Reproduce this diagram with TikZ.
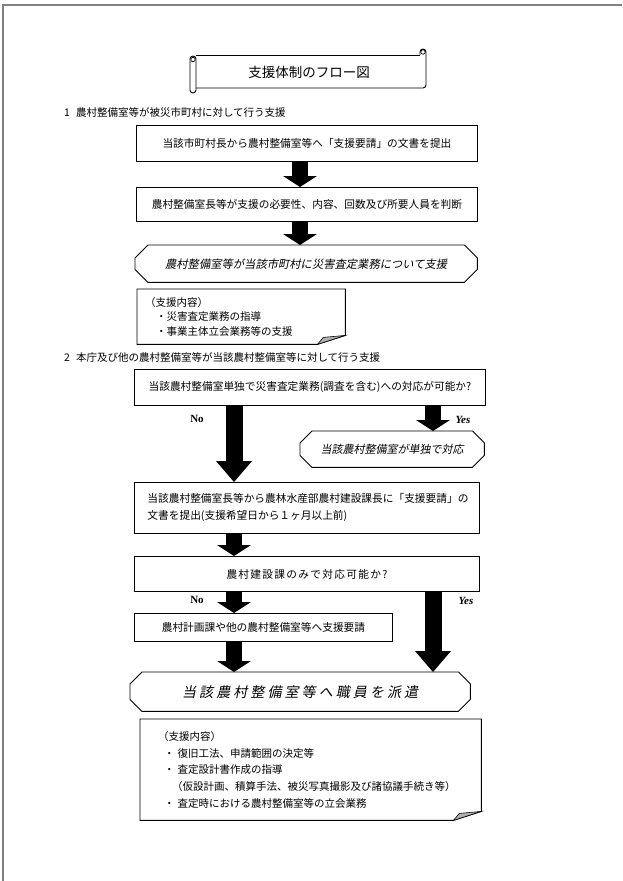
\documentclass[tikz,border=0pt]{standalone}
\usepackage{fontspec}
\usepackage{tikz}
\setmainfont{Noto Sans CJK JP}
\newfontfamily\slantjp[FakeSlant=0.2]{Noto Sans CJK JP}
\newfontfamily\spacedjp[LetterSpace=12]{Noto Sans CJK JP}
\newfontfamily\bigjp[FakeSlant=0.2,LetterSpace=22]{Noto Sans CJK JP}
\newfontfamily\yesno{Liberation Serif}
\usetikzlibrary{arrows.meta}
\definecolor{foldgray}{RGB}{175,175,175}
\definecolor{framegray}{RGB}{128,128,128}
\tikzset{
  box/.style={draw, line width=0.9pt, inner sep=0pt, anchor=north west,
    font=\fontsize{10.7}{17}\selectfont},
  hexa/.style={inner sep=0pt, anchor=north west},
  note/.style={inner sep=0pt, anchor=north west, align=left},
  heading/.style={anchor=west, inner sep=0pt, font=\fontsize{10.5}{13}\selectfont},
  answer/.style={inner sep=0pt, font=\yesno\fontsize{11}{13}\selectfont\bfseries},
  blockarrow/.style={line width=16pt, -{Triangle[length=11pt,width=34pt,line width=0pt]}},
  bigarrow/.style={line width=17pt, -{Triangle[length=21pt,width=36pt,line width=0pt]}}
}
\newcommand\chamfer[2]{%
  \draw[line width=0.9pt] ([xshift=#2]#1.north west) -- ([xshift=-#2]#1.north east)
    -- ([yshift=-#2]#1.north east) -- ([yshift=#2]#1.south east)
    -- ([xshift=-#2]#1.south east) -- ([xshift=#2]#1.south west)
    -- ([yshift=#2]#1.south west) -- ([yshift=-#2]#1.north west) -- cycle;}
\newcommand\foldnote[1]{%
  \draw[line width=0.9pt] (#1.north west) -- (#1.north east)
    -- ([yshift=9pt]#1.south east) -- ([xshift=-28pt]#1.south east)
    -- (#1.south west) -- cycle;
  \draw[line width=0.6pt, fill=foldgray] ([xshift=-28pt]#1.south east)
    -- ([yshift=9pt]#1.south east) -- ([xshift=-22pt,yshift=7pt]#1.south east) -- cycle;}
\begin{document}
\begin{tikzpicture}[x=1pt, y=-1pt]
\useasboundingbox (0,0) rectangle (622,881);
\draw[framegray, line width=1.5pt] (3,881) -- (3,5) -- (622,5);

\draw[line width=0.9pt] (196,55) -- (420,55);
\draw[line width=0.9pt, rounded corners=3pt] (420,55) -- (420,49) -- (426,49) -- (426,88) -- (196,88);
\draw[line width=0.9pt, rounded corners=3pt] (190,56) rectangle (196,93);
\draw[line width=0.7pt] (423,52) circle (2.2pt) (193,59.5) circle (2.2pt);
\node (title) at (309,72) {\fontsize{13.5}{16}\selectfont 支援体制のフロー図};

\node (head1) [heading] at (64,112) {1\hspace{6pt}農村整備室等が被災市町村に対して行う支援};
\node (request) [box, minimum width=341pt, minimum height=36pt] at (136,125)
  {当該市町村長から農村整備室等へ「支援要請」の文書を提出};
\node (judge) [box, minimum width=341pt, minimum height=34pt] at (136,187)
  {農村整備室長等が支援の必要性、内容、回数及び所要人員を判断};
\node (assist) [hexa, minimum width=342pt, minimum height=37pt] at (135,245)
  {\slantjp\fontsize{11.3}{14}\selectfont 農村整備室等が当該市町村に災害査定業務について支援};
\chamfer{assist}{13pt}
\node (note1) [note, minimum width=208pt, minimum height=55pt, inner xsep=8pt,
  text width=192pt, font=\fontsize{10.5}{14.5}\selectfont] at (137,289)
  {（支援内容）\\ \hspace*{11pt}・災害査定業務の指導\\ \hspace*{11pt}・事業主体立会業務等の支援};
\foldnote{note1}

\node (head2) [heading] at (64,357) {2\hspace{6pt}本庁及び他の農村整備室等が当該農村整備室等に対して行う支援};
\node (ask) [box, minimum width=351pt, minimum height=36pt] at (134,369)
  {当該農村整備室単独で災害査定業務(調査を含む)への対応が可能か?};
\node (self) [hexa, minimum width=184pt, minimum height=36pt] at (300,431)
  {\slantjp\fontsize{11}{14}\selectfont 当該農村整備室が単独で対応};
\chamfer{self}{12pt}
\node (report) [box, minimum width=345pt, minimum height=51pt, align=left,
  text width=319pt, inner xsep=13pt] at (134,482)
  {当該農村整備室長等から農林水産部農村建設課長に「支援要請」の\\文書を提出(支援希望日から１ヶ月以上前)};
\node (only) [box, minimum width=345pt, minimum height=35pt] at (134,556)
  {\spacedjp 農村建設課のみで対応可能か?};
\node (plan) [box, minimum width=258pt, minimum height=28pt] at (134,613)
  {農村計画課や他の農村整備室等へ支援要請};
\node (dispatch) [hexa, minimum width=340pt, minimum height=39pt] at (130,672)
  {\bigjp\fontsize{14}{17}\selectfont 当該農村整備室等へ職員を派遣};
\chamfer{dispatch}{12pt}
\node (note2) [note, minimum width=341pt, minimum height=101pt, inner xsep=18pt,
  text width=305pt, font=\fontsize{10.5}{16.7}\selectfont] at (140,719)
  {（支援内容）\\
   \hspace*{6pt}・\hspace*{3pt}復旧工法、申請範囲の決定等\\
   \hspace*{6pt}・\hspace*{3pt}査定設計書作成の指導\\
   \hspace*{14pt}（仮設計画、積算手法、被災写真撮影及び諸協議手続き等）\\
   \hspace*{6pt}・\hspace*{3pt}査定時における農村整備室等の立会業務};
\foldnote{note2}

\node (no1)  [answer] at (197,419) {No};
\node (yes1) [answer] at (463,420) {\itshape Yes};
\node (no2)  [answer] at (197,600) {No};
\node (yes2) [answer] at (466,601) {\itshape Yes};

\coordinate (colA) at (300,0);
\coordinate (colB) at (234,0);
\coordinate (colC) at (433,0);
\draw[blockarrow] (request.south -| colA) -- (judge.north -| colA);
\draw[blockarrow] (judge.south -| colA) -- (assist.north -| colA);
\draw[bigarrow] (ask.south -| colB) -- (report.north -| colB);
\draw[blockarrow] (ask.south -| colC) -- (self.north -| colC);
\draw[blockarrow] (report.south -| colB) -- (only.north -| colB);
\draw[blockarrow] (only.south -| colB) -- (plan.north -| colB);
\draw[blockarrow] (plan.south -| colB) -- (dispatch.north -| colB);
\draw[bigarrow] (only.south -| colC) -- (dispatch.north -| colC);
\end{tikzpicture}
\end{document}
